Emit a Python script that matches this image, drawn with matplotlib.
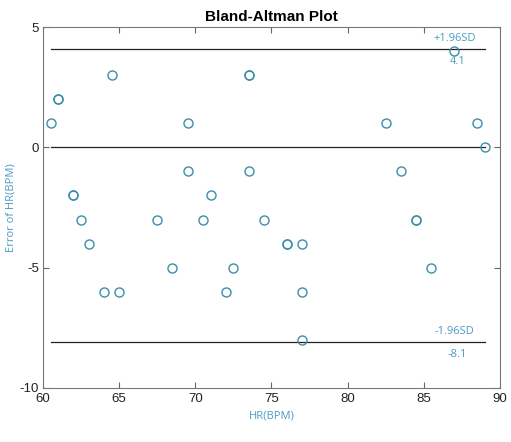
import matplotlib.pyplot as plt

plt.rcParams['axes.unicode_minus'] = False

# Heart rate (x) and error (y)
hr = [60.5, 61.0, 61.0, 64.5, 69.5, 73.5, 73.5, 69.5, 73.5, 62.0, 62.0, 71.0,
      62.5, 67.5, 70.5, 74.5, 63.0, 68.5, 72.5, 64.0, 65.0, 72.0,
      87.0, 82.5, 88.5, 89.0, 83.5, 84.5, 84.5, 76.0, 76.0, 77.0, 85.5, 77.0, 77.0]
err = [1, 2, 2, 3, 1, 3, 3, -1, -1, -2, -2, -2,
       -3, -3, -3, -3, -4, -5, -5, -6, -6, -6,
       4, 1, 1, 0, -1, -3, -3, -4, -4, -4, -5, -6, -8]

mean_diff = 0.0
upper = 4.1
lower = -8.1

teal = '#3a8fa8'
label_col = '#4a9cc4'

fig = plt.figure(figsize=(5.11, 4.42), dpi=100)
ax = fig.add_axes([0.0841, 0.1222, 0.8944, 0.8167])

x0, x1 = min(hr), max(hr)
for yv in (upper, mean_diff, lower):
    ax.plot([x0, x1], [yv, yv], color='#222222', lw=0.9, zorder=1)

ax.plot(hr, err, 'o', mfc='none', mec=teal, mew=1.0, ms=6.5, zorder=2)

ax.text(87, upper + 0.2, '+1.96SD', color=label_col, fontsize=8,
        ha='center', va='bottom', family='Open Sans')
ax.text(87.2, upper - 0.3, '4.1', color=label_col, fontsize=8,
        ha='center', va='top', family='Open Sans')
ax.text(87, lower + 0.2, '-1.96SD', color=label_col, fontsize=8,
        ha='center', va='bottom', family='Open Sans')
ax.text(87.2, lower - 0.3, '-8.1', color=label_col, fontsize=8,
        ha='center', va='top', family='Open Sans')

ax.set_xlim(60, 90)
ax.set_ylim(-10, 5)
ax.set_xticks([60, 65, 70, 75, 80, 85, 90])
ax.set_yticks([-10, -5, 0, 5])
ax.tick_params(direction='in', top=True, right=True, labelsize=9.5,
               color='#666666', labelcolor='#222222', length=4)
ax.tick_params(axis='y', pad=3)
for s in ax.spines.values():
    s.set_color('#777777')

ax.set_title('Bland-Altman Plot', fontsize=11, fontweight='bold',
             family='Liberation Sans', pad=4)
ax.set_xlabel('HR(BPM)', color=label_col, fontsize=8, family='Open Sans', labelpad=4)
ax.set_ylabel('Error of HR(BPM)', color=label_col, fontsize=8, family='Open Sans', labelpad=2)
for lab in ax.get_xticklabels() + ax.get_yticklabels():
    lab.set_family('Liberation Sans')

fig.savefig('out.png', dpi=100)
